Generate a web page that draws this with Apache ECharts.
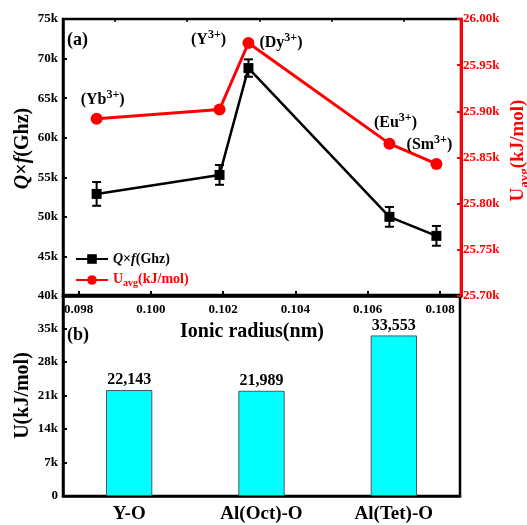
<!DOCTYPE html>
<html><head><meta charset="utf-8">
<script src="https://cdn.jsdelivr.net/npm/echarts@6/dist/echarts.min.js"></script>
<style>html,body{margin:0;padding:0;background:#fff}#c{width:527px;height:525px}</style>
</head><body><div id="c"></div>
<script>
// ---- data ----
const ions = ['Yb', 'Y', 'Dy', 'Eu', 'Sm'];
const ionicRadius = [0.0985, 0.1019, 0.1027, 0.1066, 0.1079];
const qf = [52900, 55300, 68800, 50000, 47600];
const qfErr = [1500, 1250, 1100, 1250, 1250];
const uavg = [25892, 25902, 25974, 25865, 25843];
const xTicks = [0.098, 0.100, 0.102, 0.104, 0.106, 0.108];
const xMinorTicks = [0.099, 0.101, 0.103, 0.105, 0.107];
const bonds = ['Y-O', 'Al(Oct)-O', 'Al(Tet)-O'];
const latticeU = [22143, 21989, 33553];

// ---- styling ----
const FF = 'Liberation Serif';
const ionLabelPos = ['top', 'top', 'right', 'top', 'top'];
const ionLabelOffset = [[6, 0], [-11, -51], [0, -2], [6, -2], [-7, 0]];

const chart = echarts.init(document.getElementById('c'));

const richIon = {
  n: { fontFamily: FF, fontSize: 16, fontWeight: 'bold', color: '#000', lineHeight: 19, verticalAlign: 'bottom' },
  sup: { fontFamily: FF, fontSize: 12, fontWeight: 'bold', color: '#000', verticalAlign: 'top', padding: [0, 0, 6, 0] }
};

const option = {
  animation: false,
  backgroundColor: '#fff',
  grid: [
    { left: 63, top: 19, width: 398, height: 277, show: true, borderColor: '#000', borderWidth: 2.5, outerBoundsMode: 'none', containLabel: false },
    { left: 63, top: 295, width: 397, height: 201, show: true, borderColor: '#000', borderWidth: 2.5, outerBoundsMode: 'none', containLabel: false }
  ],
  xAxis: [
    {
      type: 'value', gridIndex: 0, min: 0.09757, max: 0.10858,
      axisLine: { show: true, onZero: false, lineStyle: { color: '#000', width: 2.5 } },
      axisTick: { show: true, inside: true, length: 5, customValues: xTicks, lineStyle: { color: '#000', width: 2 } },
      axisLabel: { customValues: xTicks, formatter: v => v.toFixed(3), fontFamily: FF, fontWeight: 'bold', fontSize: 13, color: '#000', margin: 7 },
      splitLine: { show: false },
      name: 'Ionic radius(nm)', nameLocation: 'middle', nameGap: 26,
      nameTextStyle: { fontFamily: FF, fontWeight: 'bold', fontSize: 20, color: '#000', padding: [0, 20, 0, 0] }
    },
    {
      type: 'value', gridIndex: 0, min: 0.09757, max: 0.10858,
      axisLine: { show: false },
      axisTick: { show: true, inside: true, length: 3, customValues: xMinorTicks, lineStyle: { color: '#000', width: 1.5 } },
      axisLabel: { show: false },
      splitLine: { show: false }
    },
    {
      type: 'category', gridIndex: 1, data: bonds,
      axisLine: { show: true, lineStyle: { color: '#000', width: 2.5 } },
      axisTick: { show: false },
      axisLabel: { fontFamily: FF, fontWeight: 'bold', fontSize: 19, color: '#000', margin: 9 }
    }
  ],
  yAxis: [
    {
      type: 'value', gridIndex: 0, position: 'left', min: 40000, max: 75000, interval: 5000,
      axisLine: { show: true, lineStyle: { color: '#000', width: 2.5 } },
      axisTick: { show: true, inside: true, length: 4, lineStyle: { color: '#000', width: 2 } },
      axisLabel: { formatter: v => (v / 1000) + 'k', fontFamily: FF, fontWeight: 'bold', fontSize: 13, color: '#000', margin: 5 },
      splitLine: { show: false },
      name: '{i|Q}{n|×}{i|f}{n|(Ghz)}', nameLocation: 'middle', nameGap: 30, nameMoveOverlap: false,
      nameTextStyle: {
        padding: [0, 0, 0, 18],
        rich: {
          i: { fontFamily: FF, fontWeight: 'bold', fontStyle: 'italic', fontSize: 20, color: '#000' },
          n: { fontFamily: FF, fontWeight: 'bold', fontSize: 20, color: '#000' }
        }
      }
    },
    {
      type: 'value', gridIndex: 0, position: 'right', min: 25700, max: 26000, interval: 50,
      axisLine: { show: true, lineStyle: { color: '#FF0000', width: 3 } },
      axisTick: { show: true, inside: true, length: 4, lineStyle: { color: '#FF0000', width: 2 } },
      axisLabel: { formatter: v => (v / 1000).toFixed(2) + 'k', fontFamily: FF, fontWeight: 'bold', fontSize: 13, color: '#FF0000', margin: 2 },
      splitLine: { show: false },
      name: '{n|U}{s|avg}{n|(kJ/mol)}', nameLocation: 'middle', nameGap: 48, nameRotate: 90, nameMoveOverlap: false,
      nameTextStyle: {
        padding: [0, 0, 0, 14],
        rich: {
          n: { fontFamily: FF, fontWeight: 'bold', fontSize: 19, color: '#FF0000', lineHeight: 22, verticalAlign: 'top' },
          s: { fontFamily: FF, fontWeight: 'bold', fontSize: 13, color: '#FF0000', verticalAlign: 'bottom', padding: [6, 0, 0, 0] }
        }
      }
    },
    {
      type: 'value', gridIndex: 1, min: 0, max: 42000, interval: 7000,
      axisLine: { show: true, lineStyle: { color: '#000', width: 2.5 } },
      axisTick: { show: true, inside: true, length: 4, lineStyle: { color: '#000', width: 2 } },
      axisLabel: { formatter: v => v === 0 ? '0' : (v >= 42000 ? '' : (v / 1000) + 'k'), fontFamily: FF, fontWeight: 'bold', fontSize: 13, color: '#000', margin: 5 },
      splitLine: { show: false },
      name: 'U(kJ/mol)', nameLocation: 'middle', nameGap: 30, nameMoveOverlap: false,
      nameTextStyle: { fontFamily: FF, fontWeight: 'bold', fontSize: 20, color: '#000' }
    }
  ],
  legend: {
    orient: 'vertical', left: 70, top: 247, itemGap: 6, itemWidth: 32, itemHeight: 12,
    data: ['Qf', 'Uavg'],
    formatter: name => name === 'Qf' ? '{i|Q}{n|×}{i|f}{n|(Ghz)}' : '{r|U}{rs|avg}{r|(kJ/mol)}',
    textStyle: {
      rich: {
        i: { fontFamily: FF, fontWeight: 'bold', fontStyle: 'italic', fontSize: 14, color: '#000' },
        n: { fontFamily: FF, fontWeight: 'bold', fontSize: 14, color: '#000' },
        r: { fontFamily: FF, fontWeight: 'bold', fontSize: 14, color: '#FF0000', lineHeight: 16, verticalAlign: 'top' },
        rs: { fontFamily: FF, fontWeight: 'bold', fontSize: 10, color: '#FF0000', verticalAlign: 'bottom', padding: [5, 0, 0, 0] }
      }
    }
  },
  series: [
    {
      name: 'Qf', type: 'line', xAxisIndex: 0, yAxisIndex: 0,
      data: ionicRadius.map((x, i) => [x, qf[i]]),
      symbol: 'rect', symbolSize: 10,
      itemStyle: { color: '#000' }, lineStyle: { color: '#000', width: 2.5 }, z: 3
    },
    {
      name: 'QfErr', type: 'custom', xAxisIndex: 0, yAxisIndex: 0,
      data: ionicRadius.map((x, i) => [x, qf[i] - qfErr[i], qf[i] + qfErr[i]]),
      renderItem: (params, api) => {
        const lo = api.coord([api.value(0), api.value(1)]);
        const hi = api.coord([api.value(0), api.value(2)]);
        const w = 4.5;
        const st = { stroke: '#000', lineWidth: 2 };
        return {
          type: 'group', children: [
            { type: 'line', shape: { x1: lo[0], y1: lo[1], x2: hi[0], y2: hi[1] }, style: st },
            { type: 'line', shape: { x1: lo[0] - w, y1: lo[1], x2: lo[0] + w, y2: lo[1] }, style: st },
            { type: 'line', shape: { x1: hi[0] - w, y1: hi[1], x2: hi[0] + w, y2: hi[1] }, style: st }
          ]
        };
      },
      z: 4
    },
    {
      name: 'Uavg', type: 'line', xAxisIndex: 0, yAxisIndex: 1,
      data: ionicRadius.map((x, i) => ({
        value: [x, uavg[i]],
        label: {
          show: true, position: ionLabelPos[i], offset: ionLabelOffset[i], distance: 5,
          formatter: '{n|(' + ions[i] + '}{sup|3+}{n|)}', rich: richIon
        }
      })),
      symbol: 'circle', symbolSize: 12,
      itemStyle: { color: '#FF0000' }, lineStyle: { color: '#FF0000', width: 3 }, z: 3
    },
    {
      name: 'U', type: 'bar', xAxisIndex: 2, yAxisIndex: 2,
      data: latticeU, barWidth: '35%',
      itemStyle: { color: '#00FFFF', borderColor: '#555', borderWidth: 1 },
      label: {
        show: true, position: 'top', distance: 2,
        formatter: p => p.value.toLocaleString('en-US'),
        fontFamily: FF, fontWeight: 'bold', fontSize: 16, color: '#000'
      }
    }
  ],
  graphic: [
    { type: 'text', left: 67, top: 31, style: { text: '(a)', font: 'bold 18px "Liberation Serif"', fill: '#000' } },
    { type: 'text', left: 67, top: 326, style: { text: '(b)', font: 'bold 18px "Liberation Serif"', fill: '#000' } }
  ]
};
chart.setOption(option);
</script>
</body></html>
